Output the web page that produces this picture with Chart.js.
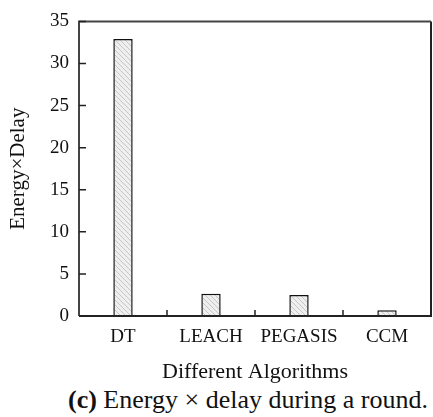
<!DOCTYPE html>
<html>
<head>
<meta charset="utf-8">
<script src="https://cdn.jsdelivr.net/npm/chart.js@4"></script>
<style>
  html, body { margin: 0; padding: 0; background: #fff; }
  #wrap { position: relative; width: 433px; height: 417px; }
  #chart { position: absolute; left: 0; top: 0; }
  #caption {
    position: absolute; left: 68px; top: 385px;
    font-family: "Liberation Serif", "Times New Roman", serif;
    font-size: 26px; line-height: 29px; color: #111; white-space: nowrap;
  }
</style>
</head>
<body>
<div id="wrap">
  <canvas id="chart" width="433" height="385"></canvas>
  <div id="caption"><b>(c)</b> Energy × delay during a round.</div>
</div>
<script>
// data
const algorithms = ["DT", "LEACH", "PEGASIS", "CCM"];
const energyDelay = [32.9, 2.65, 2.5, 0.68];
const yTicks = [0, 5, 10, 15, 20, 25, 30, 35];

const serif = '"Liberation Serif", "Times New Roman", serif';
Chart.defaults.font.family = serif;
Chart.defaults.color = "#111";

// light grey diagonal hatch for the bars
function hatch() {
    const c = document.createElement('canvas');
    c.width = 5; c.height = 5;
    const g = c.getContext('2d');
    g.fillStyle = "#efefef";
    g.fillRect(0, 0, 5, 5);
    g.strokeStyle = "#c6c6c6";
    g.lineWidth = 1;
    g.beginPath();
    g.moveTo(0, 0); g.lineTo(5, 5);
    g.moveTo(-1, 4); g.lineTo(1, 6);
    g.moveTo(4, -1); g.lineTo(6, 1);
    g.stroke();
    return g.createPattern(c, 'repeat');
}

// frame + inward ticks
const frame = {
    id: 'frame',
    afterDatasetsDraw(chart) {
        const { ctx, chartArea: a, scales } = chart;
        ctx.save();
        ctx.lineWidth = 2;
        ctx.strokeStyle = "#222";
        ctx.beginPath();
        ctx.moveTo(a.left, a.bottom); ctx.lineTo(a.right, a.bottom);
        ctx.lineTo(a.right, a.top);
        ctx.stroke();
        ctx.strokeStyle = "#444";
        ctx.beginPath();
        ctx.moveTo(a.right, a.top); ctx.lineTo(a.left, a.top); ctx.lineTo(a.left, a.bottom);
        ctx.stroke();

        ctx.lineWidth = 1.5;
        ctx.strokeStyle = "#222";
        ctx.beginPath();
        yTicks.forEach(v => {
            const y = scales.y.getPixelForValue(v);
            ctx.moveTo(a.left, y); ctx.lineTo(a.left + 7, y);
        });
        for (let i = 1; i < algorithms.length; i++) {
            const x = (scales.x.getPixelForTick(i - 1) + scales.x.getPixelForTick(i)) / 2;
            ctx.moveTo(x, a.bottom); ctx.lineTo(x, a.bottom - 6);
        }
        ctx.stroke();
        ctx.restore();
    }
};

function draw() {
    new Chart(document.getElementById('chart').getContext('2d'), {
        type: 'bar',
        data: {
            labels: algorithms,
            datasets: [{
                data: energyDelay,
                backgroundColor: hatch(),
                borderColor: "#111",
                borderWidth: 1.5,
                borderSkipped: 'bottom',
                categoryPercentage: 1,
                barPercentage: 0.22
            }]
        },
        options: {
            responsive: false,
            animation: false,
            layout: { padding: { top: 19, right: 2, left: 0, bottom: 0 } },
            plugins: { legend: { display: false }, tooltip: { enabled: false } },
            scales: {
                x: {
                    offset: true,
                    grid: { display: false, drawTicks: false },
                    border: { display: false },
                    ticks: { color: "#111", font: { family: serif, size: 19 }, padding: 10 },
                    title: {
                        display: true, text: "Different Algorithms", color: "#111",
                        font: { family: serif, size: 22 }, padding: { top: 2, bottom: 0 }
                    },
                    afterFit(s) { s.height = 69; }
                },
                y: {
                    min: 0, max: 35,
                    grid: { display: false, drawTicks: false },
                    border: { display: false },
                    afterBuildTicks(s) { s.ticks = yTicks.map(v => ({ value: v })); },
                    ticks: { color: "#111", font: { family: serif, size: 19 }, padding: 10 },
                    title: {
                        display: true, text: "Energy×Delay", color: "#111",
                        font: { family: serif, size: 21 }, padding: { top: 6, bottom: 0 }
                    },
                    afterFit(s) { s.width = 79; }
                }
            }
        },
        plugins: [frame]
    });
}

if (document.fonts && document.fonts.load) {
    document.fonts.load('19px "Liberation Serif"').then(draw, draw);
} else {
    draw();
}
</script>
</body>
</html>
